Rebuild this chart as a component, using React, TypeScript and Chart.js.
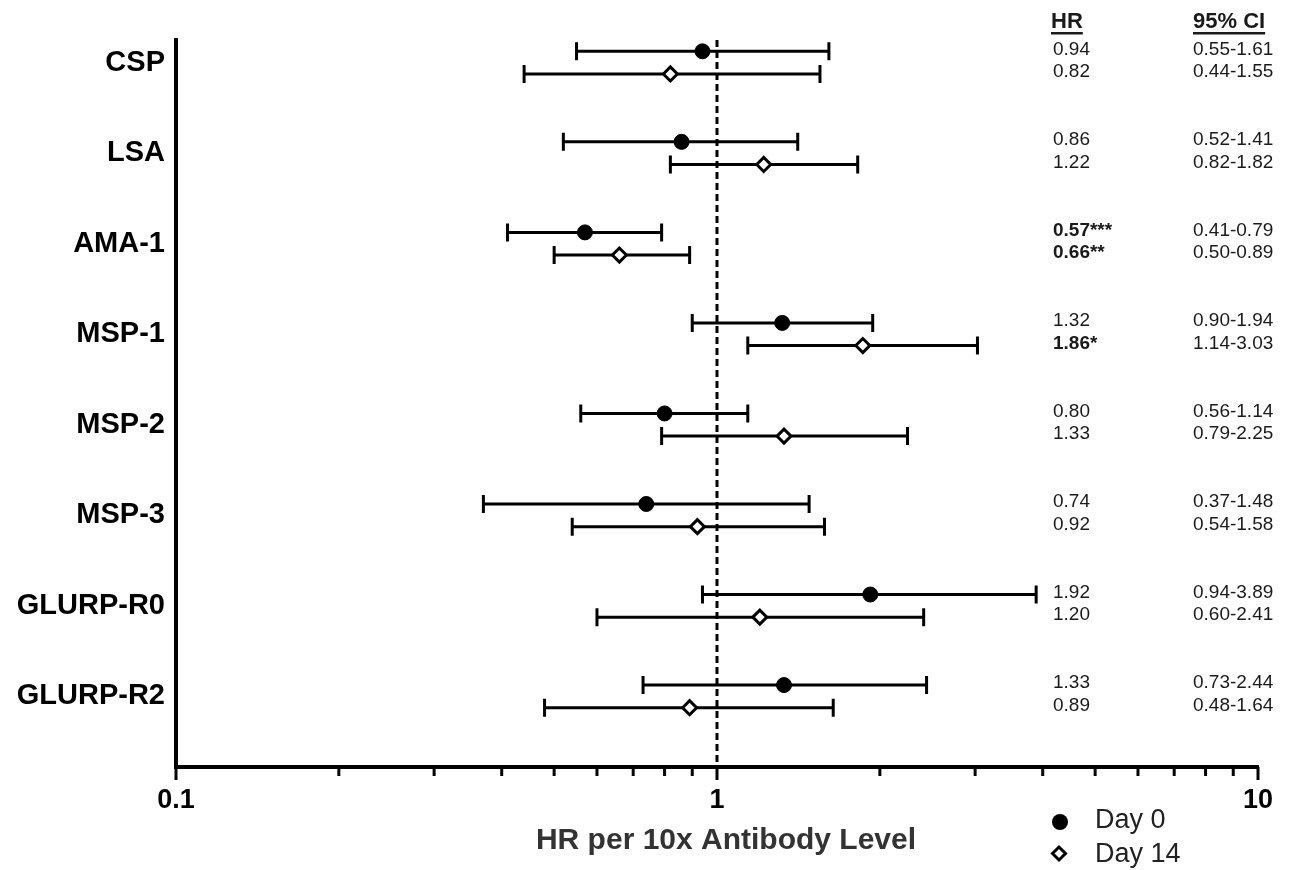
import React, { useEffect, useRef } from "react";
import { Chart, registerables } from "chart.js";

Chart.register(...registerables);

const categories = ["CSP", "LSA", "AMA-1", "MSP-1", "MSP-2", "MSP-3", "GLURP-R0", "GLURP-R2"];
const day0HR = [0.94, 0.86, 0.57, 1.32, 0.8, 0.74, 1.92, 1.33];
const day0Lo = [0.55, 0.52, 0.41, 0.9, 0.56, 0.37, 0.94, 0.73];
const day0Hi = [1.61, 1.41, 0.79, 1.94, 1.14, 1.48, 3.89, 2.44];
const day0Sig = ["", "", "***", "", "", "", "", ""];
const day14HR = [0.82, 1.22, 0.66, 1.86, 1.33, 0.92, 1.2, 0.89];
const day14Lo = [0.44, 0.82, 0.5, 1.14, 0.79, 0.54, 0.6, 0.48];
const day14Hi = [1.55, 1.82, 0.89, 3.03, 2.25, 1.58, 2.41, 1.64];
const day14Sig = ["", "", "**", "*", "", "", "", ""];
const xTicks = [0.1, 0.2, 0.3, 0.4, 0.5, 0.6, 0.7, 0.8, 0.9, 1, 2, 3, 4, 5, 6, 7, 8, 9, 10];
const xMajor = [0.1, 1, 10];
const xLabels: Record<string, string> = { "0.1": "0.1", "1": "1", "10": "10" };
const seriesNames = ["Day 0", "Day 14"];
const xTitle = "HR per 10x Antibody Level";
const tableHeaders = ["HR", "95% CI"];

const OFFSET = 0.125;
const Y_MIN = -0.25;
const Y_MAX = 7.78;
const FONT = "'Liberation Sans', Arial, Helvetica, sans-serif";

export default function App() {
  const ref = useRef<HTMLCanvasElement | null>(null);
  useEffect(() => {
    if (!ref.current) return;
    const d0 = day0HR.map((v, i) => ({ x: v, y: i - OFFSET }));
    const d14 = day14HR.map((v, i) => ({ x: v, y: i + OFFSET }));

    const extras = {
      id: "extras",
      beforeDatasetsDraw(chart: any) {
        const ctx = chart.ctx;
        const xs = chart.scales.x;
        const ys = chart.scales.y;
        ctx.save();
        ctx.strokeStyle = "#000";
        ctx.lineWidth = 3;
        const draw = (lo: number[], hi: number[], off: number) => {
          lo.forEach((l, i) => {
            const y = ys.getPixelForValue(i + off);
            const x1 = xs.getPixelForValue(l);
            const x2 = xs.getPixelForValue(hi[i]);
            ctx.beginPath();
            ctx.moveTo(x1, y);
            ctx.lineTo(x2, y);
            ctx.moveTo(x1, y - 9);
            ctx.lineTo(x1, y + 9);
            ctx.moveTo(x2, y - 9);
            ctx.lineTo(x2, y + 9);
            ctx.stroke();
          });
        };
        draw(day0Lo, day0Hi, -OFFSET);
        draw(day14Lo, day14Hi, OFFSET);
        ctx.restore();
      },
      afterDraw(chart: any) {
        const ctx = chart.ctx;
        const xs = chart.scales.x;
        const ys = chart.scales.y;
        const bottom = chart.chartArea.bottom;
        ctx.save();
        // x ticks (major longer than minor)
        ctx.strokeStyle = "#000";
        ctx.lineWidth = 3;
        xTicks.forEach((v) => {
          const x = xs.getPixelForValue(v);
          const len = xMajor.includes(v) ? 13 : 9;
          ctx.beginPath();
          ctx.moveTo(x, bottom);
          ctx.lineTo(x, bottom + len);
          ctx.stroke();
        });
        ctx.fillStyle = "#1a1a1a";
        ctx.textBaseline = "middle";
        ctx.textAlign = "left";
        const hrX = 1053;
        const ciX = 1193;
        // headers
        ctx.font = `bold 22px ${FONT}`;
        [hrX - 2, ciX].forEach((x, k) => {
          const t = tableHeaders[k];
          ctx.fillText(t, x, 22);
          const w = ctx.measureText(t).width;
          ctx.fillRect(x, 32, w, 2.5);
        });
        const rows = (hr: number[], lo: number[], hi: number[], sig: string[], off: number) => {
          hr.forEach((v, i) => {
            const y = ys.getPixelForValue(i + off) - 2;
            ctx.font = sig[i] ? `bold 19px ${FONT}` : `19px ${FONT}`;
            ctx.fillText(v.toFixed(2) + sig[i], hrX, y);
            ctx.font = `19px ${FONT}`;
            ctx.fillText(`${lo[i].toFixed(2)}-${hi[i].toFixed(2)}`, ciX, y);
          });
        };
        rows(day0HR, day0Lo, day0Hi, day0Sig, -OFFSET);
        rows(day14HR, day14Lo, day14Hi, day14Sig, OFFSET);
        // x title
        ctx.fillStyle = "#333";
        ctx.font = `bold 30px ${FONT}`;
        ctx.textAlign = "center";
        ctx.fillText(xTitle, 726, 841);
        // legend
        ctx.textAlign = "left";
        ctx.fillStyle = "#222";
        ctx.font = `27px ${FONT}`;
        ctx.fillText(seriesNames[0], 1095, 821);
        ctx.fillText(seriesNames[1], 1095, 855);
        ctx.fillStyle = "#000";
        ctx.beginPath();
        ctx.arc(1060, 822, 8, 0, Math.PI * 2);
        ctx.fill();
        ctx.strokeStyle = "#000";
        ctx.lineWidth = 3;
        ctx.fillStyle = "#fff";
        ctx.beginPath();
        ctx.moveTo(1059, 847);
        ctx.lineTo(1065.5, 853.5);
        ctx.lineTo(1059, 860);
        ctx.lineTo(1052.5, 853.5);
        ctx.closePath();
        ctx.fill();
        ctx.stroke();
        ctx.restore();
      },
    };

    const chart = new Chart(ref.current, {
      type: "scatter",
      data: {
        datasets: [
          {
            label: seriesNames[0],
            data: d0,
            pointStyle: "circle",
            pointRadius: 7.5,
            backgroundColor: "#000",
            borderColor: "#000",
            borderWidth: 1,
            order: 1,
          },
          {
            label: seriesNames[1],
            data: d14,
            pointStyle: "rectRot",
            pointRadius: 7,
            backgroundColor: "#fff",
            borderColor: "#000",
            borderWidth: 3,
            order: 1,
          },
          {
            label: "ref",
            type: "line",
            data: [
              { x: 1, y: Y_MIN },
              { x: 1, y: Y_MAX },
            ],
            borderColor: "#000",
            borderWidth: 3,
            borderDash: [7, 4],
            pointRadius: 0,
            order: 3,
          } as any,
        ],
      },
      options: {
        animation: false,
        responsive: true,
        maintainAspectRatio: false,
        layout: { padding: { top: 40, right: 33, left: 0, bottom: 0 } },
        plugins: { legend: { display: false }, tooltip: { enabled: false } },
        scales: {
          x: {
            type: "logarithmic",
            min: 0.1,
            max: 10,
            afterBuildTicks: (s: any) => {
              s.ticks = xTicks.map((v) => ({ value: v }));
            },
            afterFit: (s: any) => {
              s.height = 103;
            },
            ticks: {
              autoSkip: false,
              maxRotation: 0,
              color: "#000",
              font: { family: FONT, size: 27, weight: "bold" },
              padding: 8,
              callback: (v: any) => xLabels[String(Number(v))] ?? "",
            },
            grid: {
              drawOnChartArea: false,
              drawTicks: true,
              tickLength: 9,
              tickWidth: 3,
              tickColor: "rgba(0,0,0,0)",
            },
            border: { color: "#000", width: 4 },
          },
          y: {
            type: "linear",
            reverse: true,
            min: Y_MIN,
            max: Y_MAX,
            afterBuildTicks: (s: any) => {
              s.ticks = categories.map((_, i) => ({ value: i }));
            },
            afterFit: (s: any) => {
              s.width = 176;
              s.paddingTop = 0;
              s.paddingBottom = 0;
            },
            ticks: {
              autoSkip: false,
              color: "#000",
              font: { family: FONT, size: 29, weight: "bold" },
              padding: 11,
              callback: (v: any) => categories[Number(v)] ?? "",
            },
            grid: { display: false, drawTicks: false },
            border: { display: true, color: "#000", width: 4 },
          },
        },
      },
      plugins: [extras],
    });
    return () => chart.destroy();
  }, []);

  return (
    <div style={{ position: "fixed", left: 0, top: 0, width: 1291, height: 870, background: "#fff" }}>
      <canvas ref={ref} />
    </div>
  );
}
